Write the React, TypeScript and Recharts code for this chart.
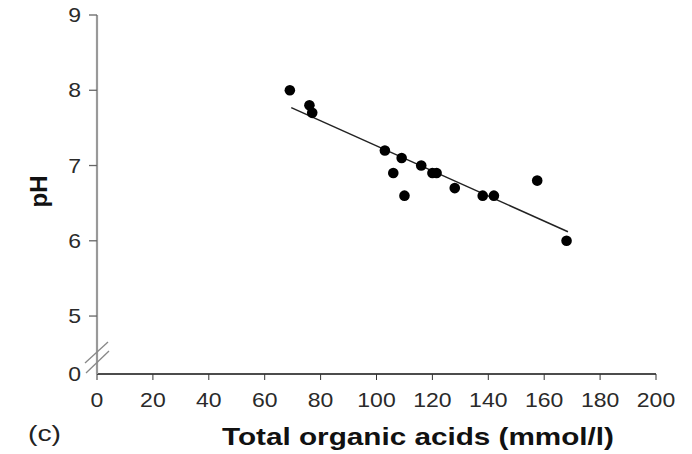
import React from 'react';
import {
  ScatterChart,
  Scatter,
  XAxis,
  YAxis,
  ReferenceLine,
} from 'recharts';

// total organic acids (mmol/l) vs pH
const acids = [69, 76, 77, 103, 106, 109, 110, 116, 120, 121.5, 128, 138, 142, 157.5, 168];
const ph = [8.0, 7.8, 7.7, 7.2, 6.9, 7.1, 6.6, 7.0, 6.9, 6.9, 6.7, 6.6, 6.6, 6.8, 6.0];

// regression line end points
const fitX = [69.5, 168.5];
const fitY = [7.77, 6.12];

const xTicks = [0, 20, 40, 60, 80, 100, 120, 140, 160, 180, 200];
// the axis is broken below 5: this position stands for 0
const BREAK = 4.23;
const yTicks = [BREAK, 5, 6, 7, 8, 9];

const points = acids.map((a, i) => ({ x: a, y: ph[i] }));

const FONT = '"Liberation Sans", Arial, Helvetica, sans-serif';

const XTick = (props: any) => {
  const { x, y, payload } = props;
  return (
    <text
      transform={`translate(${x},${y}) scale(1.15,1)`}
      textAnchor="middle"
      dy="0.71em"
      fontSize={20}
      fontFamily={FONT}
      fill="#2a2a2a"
    >
      {payload.value}
    </text>
  );
};

const YTick = (props: any) => {
  const { x, y, payload } = props;
  const axisX = x + 16;
  const isBreak = payload.value === BREAK;
  return (
    <g>
      {isBreak ? (
        <g stroke="#888" strokeWidth={1.3}>
          <line x1={axisX - 12} y1={y - 11} x2={axisX + 11} y2={y - 32} />
          <line x1={axisX - 11} y1={y - 1} x2={axisX + 12} y2={y - 23} />
        </g>
      ) : (
        <line x1={axisX - 8} y1={y} x2={axisX} y2={y} stroke="#666" strokeWidth={1.3} />
      )}
      <text
        transform={`translate(${x},${y}) scale(1.15,1)`}
        textAnchor="end"
        dy="0.355em"
        fontSize={20}
        fontFamily={FONT}
        fill="#2a2a2a"
      >
        {isBreak ? '0' : payload.value}
      </text>
    </g>
  );
};

const XTitle = () => (
  <g>
    <text
      x={222}
      y={445}
      textLength={392}
      lengthAdjust="spacingAndGlyphs"
      fontSize={24}
      fontWeight="bold"
      fontFamily={FONT}
      fill="#111"
    >
      Total organic acids (mmol/l)
    </text>
    <text
      x={28}
      y={441}
      textLength={33}
      lengthAdjust="spacingAndGlyphs"
      fontSize={22}
      fontFamily={FONT}
      fill="#222"
    >
      (c)
    </text>
  </g>
);

const YTitle = () => (
  <text
    transform="translate(46.5,191.5) rotate(-90)"
    textAnchor="middle"
    fontSize={24}
    fontWeight="bold"
    fontFamily={FONT}
    fill="#111"
  >
    pH
  </text>
);

const Dot = (props: any) => <circle cx={props.cx} cy={props.cy} r={5.3} fill="#000" />;

const App = () => {
  return (
    <div style={{ position: 'absolute', left: 0, top: 0, background: '#fff' }}>
      <ScatterChart
        width={692}
        height={454}
        margin={{ top: 15, right: 36, bottom: 0, left: 0 }}
      >
        <XAxis
          type="number"
          dataKey="x"
          domain={[0, 200]}
          ticks={xTicks}
          interval={0}
          height={80}
          tickSize={6}
          tickMargin={13}
          axisLine={{ stroke: '#111', strokeWidth: 1.5 }}
          tickLine={{ stroke: '#333' }}
          tick={<XTick />}
          label={<XTitle />}
        />
        <YAxis
          type="number"
          dataKey="y"
          domain={[BREAK, 9]}
          ticks={yTicks}
          interval={0}
          allowDataOverflow
          width={97}
          tickSize={8}
          tickMargin={8}
          axisLine={{ stroke: '#999', strokeWidth: 2.2 }}
          tickLine={false}
          tick={<YTick />}
          label={<YTitle />}
        />
        <ReferenceLine
          segment={[
            { x: fitX[0], y: fitY[0] },
            { x: fitX[1], y: fitY[1] },
          ]}
          stroke="#222"
          strokeWidth={1.5}
        />
        <Scatter data={points} shape={<Dot />} isAnimationActive={false} />
      </ScatterChart>
    </div>
  );
};

export default App;
